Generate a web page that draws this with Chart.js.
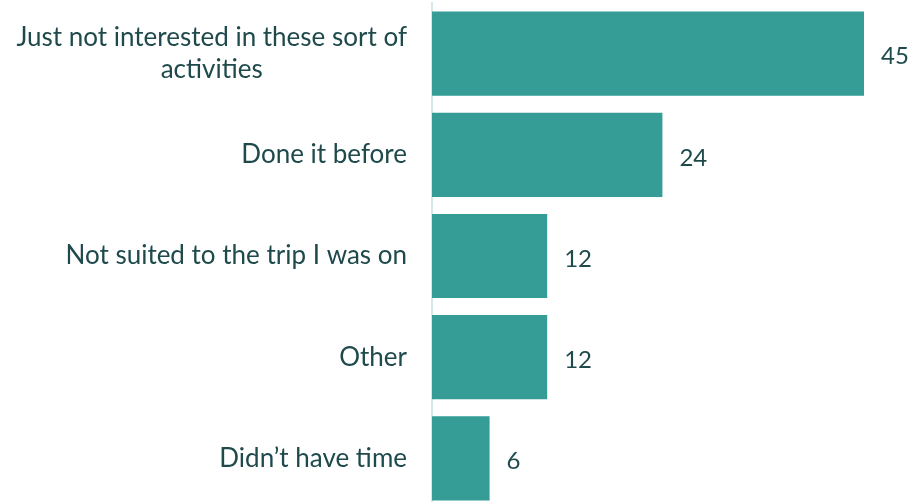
<!DOCTYPE html>
<html>
<head>
<meta charset="utf-8">
<script src="https://cdn.jsdelivr.net/npm/chart.js@4"></script>
<style>
  html, body { margin: 0; padding: 0; background: #fff; overflow: hidden; }
  #wrap { width: 912px; height: 509px; }
</style>
</head>
<body>
<div id="wrap"><canvas id="reasons-chart" width="912" height="509"></canvas></div>
<script>
// reasons for not taking part
var categories = [
    ['Just not interested in these sort of', 'activities'],
    'Done it before',
    'Not suited to the trip I was on',
    'Other',
    'Didn\u2019t have time'
];
var values = [45, 24, 12, 12, 6];

var barColor = '#359c96';
var textColor = '#1f4a4c';
var fontFamily = 'Lato, "Open Sans", sans-serif';

// category labels, centred line by line, right edge fixed near the axis
var categoryLabels = {
    id: 'categoryLabels',
    afterDraw: function(chart) {
        var ctx = chart.ctx;
        var yScale = chart.scales.y;
        var right = 407;
        var lineH = 32;
        ctx.save();
        ctx.font = '26px ' + fontFamily;
        ctx.fillStyle = textColor;
        ctx.textAlign = 'center';
        ctx.textBaseline = 'middle';
        categories.forEach(function(label, i) {
            var lines = Array.isArray(label) ? label : [label];
            var maxW = 0;
            lines.forEach(function(l) { maxW = Math.max(maxW, ctx.measureText(l).width); });
            var cx = right - maxW / 2;
            var cy = yScale.getPixelForTick(i) - (lines.length - 1) * lineH / 2;
            lines.forEach(function(l, j) {
                ctx.fillText(l, cx, cy + j * lineH);
            });
        });
        ctx.restore();
    }
};

// value labels to the right of each bar
var valueLabels = {
    id: 'valueLabels',
    afterDatasetsDraw: function(chart) {
        var ctx = chart.ctx;
        var meta = chart.getDatasetMeta(0);
        ctx.save();
        ctx.font = '24px ' + fontFamily;
        ctx.fillStyle = textColor;
        ctx.textAlign = 'left';
        ctx.textBaseline = 'middle';
        meta.data.forEach(function(bar, i) {
            ctx.fillText(String(values[i]), bar.x + 17, bar.y + 3);
        });
        ctx.restore();
    }
};

var ctx = document.getElementById('reasons-chart').getContext('2d');
var reasonsChart = new Chart(ctx, {
    type: 'bar',
    data: {
        labels: categories,
        datasets: [{
            data: values,
            backgroundColor: barColor,
            borderWidth: 0,
            barPercentage: 0.832,
            categoryPercentage: 1
        }]
    },
    options: {
        indexAxis: 'y',
        responsive: false,
        animation: false,
        layout: { padding: { left: 424, top: 3, right: 0, bottom: 0 } },
        plugins: {
            legend: { display: false },
            tooltip: { enabled: false }
        },
        scales: {
            x: {
                display: false,
                min: 0,
                max: 50
            },
            y: {
                ticks: { display: false },
                grid: { display: false },
                border: { display: true, color: '#d6e9ea', width: 2 }
            }
        }
    },
    plugins: [categoryLabels, valueLabels]
});
</script>
</body>
</html>
